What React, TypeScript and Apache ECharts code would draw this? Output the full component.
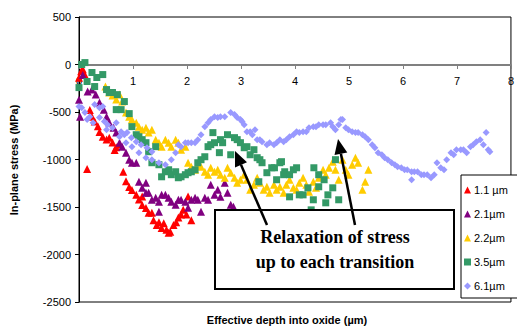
import React, { useEffect, useRef } from "react";
import * as echarts from "echarts";

// [effective depth (µm), in-plane stress (MPa)]
const s11: number[][] = [
  [0, -140], [0.04, -70], [0.07, -50], [0.11, -110], [0.15, -1100], [0.2, -480], [0.24, -550],
  [0.29, -600], [0.35, -650], [0.38, -710], [0.44, -760], [0.51, -790], [0.56, -770], [0.62, -820],
  [0.66, -900], [0.69, -870], [0.75, -840], [0.82, -1130], [0.87, -1230], [0.93, -1290], [0.98, -1320],
  [1.06, -1370], [1.11, -1420], [1.17, -1480], [1.17, -1390], [1.24, -1510], [1.29, -1560], [1.35, -1560],
  [1.38, -1640], [1.44, -1690], [1.48, -1660], [1.53, -1720], [1.57, -1670], [1.62, -1740], [1.66, -1770],
  [1.69, -1760], [1.75, -1690], [1.8, -1660], [1.84, -1610], [1.89, -1580], [1.93, -1530], [1.99, -1580],
  [2.02, -1390], [2.08, -1640],
];
const s21: number[][] = [
  [0, -370], [0.02, -550], [0.07, -110], [0.16, -285], [0.24, -264], [0.31, -317], [0.38, -400],
  [0.46, -475], [0.51, -550], [0.56, -610], [0.64, -665], [0.69, -717], [0.75, -823], [0.8, -865],
  [0.87, -928], [0.93, -1002], [0.98, -1034], [1.06, -1034], [1.11, -1234], [1.17, -1298], [1.24, -1245],
  [1.24, -1350], [1.29, -1350], [1.35, -1424], [1.42, -1403], [1.48, -1445], [1.48, -1551], [1.53, -1372],
  [1.6, -1372], [1.66, -1403], [1.71, -1445], [1.79, -1477], [1.84, -1424], [1.89, -1424], [1.97, -1445],
  [2.02, -1509], [2.08, -1424], [2.15, -1403], [2.2, -1424], [2.26, -1551], [2.33, -1403], [2.39, -1424],
  [2.44, -1266], [2.51, -1372], [2.57, -1319], [2.62, -1393], [2.7, -1245], [2.75, -1350], [2.81, -1477],
  [2.86, -1498],
];
const s22: number[][] = [
  [0.49, -232], [0.56, -295], [0.62, -327], [0.69, -369], [0.75, -317], [0.8, -390], [0.87, -506],
  [0.93, -549], [0.98, -580], [1.06, -612], [1.11, -654], [1.17, -686], [1.24, -665], [1.29, -717],
  [1.35, -686], [1.42, -791], [1.48, -823], [1.53, -865], [1.6, -791], [1.66, -823], [1.71, -865],
  [1.79, -791], [1.84, -823], [1.89, -897], [1.97, -865], [2.02, -1034], [2.08, -1076], [2.15, -1108],
  [2.2, -1055], [2.26, -1076], [2.33, -1129], [2.39, -1160], [2.44, -1087], [2.51, -1129], [2.57, -1108],
  [2.62, -1160], [2.7, -1192], [2.75, -1087], [2.81, -1139], [2.88, -1192], [2.93, -1245], [2.99, -1213],
  [3.06, -1160], [3.11, -1213], [3.17, -1319], [3.24, -1266], [3.3, -1192], [3.35, -1245], [3.42, -1319],
  [3.48, -1287], [3.53, -1350], [3.61, -1266], [3.66, -1319], [3.72, -1287], [3.79, -1350], [3.84, -1266],
  [3.9, -1213], [3.97, -1298], [4.03, -1319], [4.08, -1245], [4.15, -1192], [4.21, -1266], [4.26, -1340],
  [4.34, -1234], [4.39, -1298], [4.44, -1192], [4.52, -1108], [4.57, -1160], [4.63, -1087], [4.7, -1023],
  [4.75, -1108], [4.81, -1213], [4.88, -1002], [4.94, -1108], [4.99, -1160], [5.06, -1055], [5.12, -981],
  [5.17, -1034], [5.25, -1319], [5.3, -1234], [5.36, -1108],
];
const s35: number[][] = [
  [0.05, 0], [0.11, 20], [0, -243], [0.15, -179], [0.24, -84], [0.29, -232], [0.33, -137], [0.44, -106],
  [0.51, -264], [0.56, -295], [0.62, -295], [0.71, -317], [0.69, -475], [0.78, -475], [0.84, -390],
  [0.93, -517], [0.98, -654], [1.06, -739], [1.11, -760], [1.17, -791], [1.24, -823], [1.29, -918],
  [1.35, -1034], [1.42, -865], [1.48, -1055], [1.53, -1182], [1.6, -1129], [1.66, -1108], [1.71, -1160],
  [1.79, -1129], [1.84, -1192], [1.89, -1182], [1.97, -1160], [2.02, -1139], [2.08, -1129], [2.15, -1108],
  [2.2, -1034], [2.26, -1002], [2.33, -971], [2.39, -865], [2.44, -844], [2.48, -717], [2.51, -823],
  [2.6, -928], [2.62, -791], [2.66, -823], [2.75, -739], [2.81, -950], [2.88, -770], [2.93, -791],
  [2.99, -823], [3.06, -876], [3.11, -865], [3.17, -950], [3.24, -897], [3.3, -981], [3.35, -1002],
  [3.39, -1034], [3.48, -1139], [3.57, -1087], [3.62, -1087], [3.72, -1034], [3.75, -1023], [3.79, -1160],
  [3.81, -1129], [3.9, -1160], [3.97, -1108], [4.03, -1087], [3.33, -1234], [3.66, -1213], [3.9, -1393],
  [4.08, -1372], [4.15, -1372], [4.24, -1298], [4.3, -1530], [4.34, -1424], [4.35, -1087], [4.44, -1160],
  [4.44, -1287], [4.54, -1213], [4.57, -1456], [4.61, -1372], [4.7, -1298], [4.75, -1002], [4.81, -1424],
];
const s61: number[][] = [
  [0, -443], [0.05, -454], [0.11, -506], [0.15, -580], [0.2, -549], [0.26, -612], [0.29, -422],
  [0.38, -454], [0.38, -559], [0.44, -443], [0.47, -601], [0.51, -686], [0.53, -633], [0.62, -665],
  [0.69, -612], [0.75, -760], [0.78, -707], [0.84, -739], [0.87, -823], [0.89, -717], [0.97, -770],
  [0.98, -865], [1.06, -812], [1.11, -928], [1.15, -844], [1.24, -981], [1.26, -876], [1.35, -918],
  [1.35, -1002], [1.48, -1034], [1.6, -1055], [1.71, -1002], [1.79, -928], [1.84, -844], [1.89, -865],
  [1.97, -823], [2.02, -823], [2.08, -823], [2.15, -823], [2.2, -791], [2.26, -739], [2.33, -654],
  [2.39, -612], [2.44, -580], [2.51, -549], [2.57, -559], [2.62, -549], [2.7, -549], [2.81, -506],
  [2.88, -527], [2.93, -559], [2.99, -580], [3.02, -601], [3.06, -633], [3.11, -707], [3.17, -707],
  [3.21, -739], [3.26, -686], [3.3, -791], [3.35, -791], [3.39, -812], [3.48, -844], [3.53, -823],
  [3.61, -844], [3.66, -823], [3.72, -791], [3.79, -812], [3.84, -791], [3.9, -760], [3.97, -739],
  [4.03, -707], [4.08, -717], [4.15, -707], [4.21, -707], [4.26, -665], [4.34, -654], [4.39, -654],
  [4.44, -633], [4.52, -633], [4.57, -633], [4.66, -612], [4.7, -654], [4.75, -686], [4.81, -633],
  [4.85, -580], [4.88, -580], [4.94, -665], [4.99, -686], [5.06, -707], [5.12, -717], [5.17, -717],
  [5.25, -739], [5.3, -760], [5.36, -791], [5.43, -844], [5.48, -876], [5.54, -928], [5.61, -950],
  [5.66, -981], [5.72, -1002], [5.79, -1034], [5.85, -1055], [5.9, -1076], [5.97, -1087], [6.03, -1108],
  [6.08, -1108], [6.16, -1129], [6.16, -1213], [6.21, -1129], [6.27, -1129], [6.34, -1160], [6.39, -1160],
  [6.45, -1160], [6.52, -1192], [6.58, -1160], [6.63, -1034], [6.7, -1087], [6.76, -1108], [6.81, -1002],
  [6.89, -928], [6.94, -950], [6.99, -897], [7.07, -897], [7.12, -897], [7.18, -928], [7.25, -865],
  [7.3, -844], [7.36, -812], [7.43, -791], [7.49, -844], [7.54, -717], [7.58, -897], [7.61, -918],
];

const seriesNames = ["1.1 µm", "2.1µm", "2.2µm", "3.5µm", "6.1µm"];
const seriesColors = ["#FF0000", "#800080", "#FFCC00", "#339966", "#9999FF"];
const seriesSymbols = ["triangle", "triangle", "triangle", "rect", "diamond"];
const seriesSizes = [8, 8, 8, 7, 7];
const seriesData = [s11, s21, s22, s35, s61];

const xTitle = "Effective depth into oxide (µm)";
const yTitle = "In-plane stress (MPa)";
const noteLines = ["Relaxation of stress", "up to each transition"];

export default function App() {
  const ref = useRef<HTMLDivElement>(null);
  useEffect(() => {
    if (!ref.current) return;
    const chart = echarts.init(ref.current, undefined, { renderer: "svg" });
    const font = "Liberation Sans, Arial, sans-serif";
    chart.setOption({
      animation: false,
      grid: {
        left: 79, top: 17, right: -1, bottom: 24,
        show: true, borderColor: "#000", borderWidth: 1, backgroundColor: "transparent",
      },
      xAxis: {
        type: "value", min: 0, max: 8, interval: 1, position: "bottom", offset: -237,
        axisLine: { show: true, onZero: false, lineStyle: { color: "#808080", width: 2 } },
        axisTick: { show: true, length: 4, lineStyle: { color: "#808080", width: 1 } },
        axisLabel: { color: "#000", fontSize: 11, fontFamily: font, margin: 10 },
        splitLine: { show: false },
      },
      yAxis: {
        type: "value", min: -2500, max: 500, interval: 500,
        axisLine: { show: true, onZero: false, lineStyle: { color: "#000", width: 1 } },
        axisTick: { show: true, length: 4, lineStyle: { color: "#000" } },
        axisLabel: { color: "#000", fontSize: 11, fontFamily: font, margin: 8, formatter: (v: number) => String(v) },
        splitLine: { show: false },
      },
      legend: {
        orient: "vertical", left: 461, top: 175,
        padding: [8, 12, 5, 3], itemGap: 10, itemWidth: 7, itemHeight: 7,
        backgroundColor: "#fff", borderColor: "#000", borderWidth: 1,
        textStyle: { fontSize: 11, fontFamily: font, color: "#000", lineHeight: 14, padding: [0, 0, 0, -2] },
        data: seriesNames.map((n, i) => ({ name: n, icon: seriesSymbols[i] })),
      },
      series: seriesData.map((d, i) => ({
        type: "scatter", name: seriesNames[i], data: d,
        symbol: seriesSymbols[i], symbolSize: seriesSizes[i],
        itemStyle: { color: seriesColors[i], opacity: 1 },
      })),
      graphic: [
        {
          type: "text", x: 287, y: 320, z: 100,
          style: { text: xTitle, font: `bold 11px ${font}`, fill: "#000", align: "center", verticalAlign: "middle" },
        },
        {
          type: "text", x: 14, y: 160, rotation: Math.PI / 2, z: 100,
          style: { text: yTitle, font: `bold 11px ${font}`, fill: "#000", align: "center", verticalAlign: "middle" },
        },
        {
          type: "rect", z: 100,
          shape: { x: 215, y: 210, width: 239, height: 79 },
          style: { fill: "#fff", stroke: "#000", lineWidth: 2 },
        },
        {
          type: "text", x: 335, y: 237, z: 101,
          style: { text: noteLines[0], font: "bold 18px 'Liberation Serif', 'Times New Roman', serif", fill: "#000", align: "center", verticalAlign: "middle" },
        },
        {
          type: "text", x: 335, y: 262, z: 101,
          style: { text: noteLines[1], font: "bold 18px 'Liberation Serif', 'Times New Roman', serif", fill: "#000", align: "center", verticalAlign: "middle" },
        },
        {
          type: "line", z: 102,
          shape: { x1: 267, y1: 225, x2: 241, y2: 164.8 },
          style: { stroke: "#000", lineWidth: 2.5 },
        },
        {
          type: "polygon", z: 102,
          shape: { points: [[235, 151], [247, 162.2], [235, 167.4]] },
          style: { fill: "#000" },
        },
        {
          type: "line", z: 102,
          shape: { x1: 355, y1: 225, x2: 340.9, y2: 153.7 },
          style: { stroke: "#000", lineWidth: 2.5 },
        },
        {
          type: "polygon", z: 102,
          shape: { points: [[338, 139], [347.3, 152.4], [334.5, 155]] },
          style: { fill: "#000" },
        },
      ],
    });
    return () => chart.dispose();
  }, []);
  return <div ref={ref} style={{ width: 517, height: 326, position: "absolute", left: 0, top: 0 }} />;
}
